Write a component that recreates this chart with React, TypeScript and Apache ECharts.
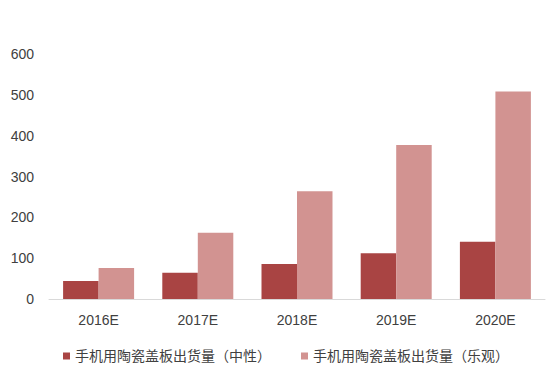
import React, { useEffect, useRef } from "react";
import * as echarts from "echarts";

const categories = ["2016E", "2017E", "2018E", "2019E", "2020E"];
const neutralValues = [44, 64, 86, 112, 140];
const optimisticValues = [76, 162, 264, 377, 508];
const seriesNames = ["手机用陶瓷盖板出货量（中性）", "手机用陶瓷盖板出货量（乐观）"];
const yTicks = { min: 0, max: 600, interval: 100 };

const FONT = "'Liberation Sans', Arial, 'Noto Sans CJK SC', sans-serif";

export default function App() {
  const ref = useRef<HTMLDivElement>(null);
  useEffect(() => {
    if (!ref.current) return;
    const chart = echarts.init(ref.current, null, { renderer: "svg" });
    chart.setOption({
      animation: false,
      backgroundColor: "#ffffff",
      textStyle: { fontFamily: FONT },
      grid: { left: 49, right: 8, top: 54, bottom: 74, containLabel: false },
      legend: {
        left: 58,
        top: 344,
        itemWidth: 7,
        itemHeight: 7,
        itemGap: 30,
        icon: "rect",
        textStyle: { fontSize: 14, color: "#404040", fontFamily: FONT },
        data: seriesNames,
      },
      xAxis: {
        type: "category",
        data: categories,
        axisLine: { lineStyle: { color: "#d9d9d9", width: 1 } },
        axisTick: { show: false },
        axisLabel: { color: "#404040", fontSize: 14, margin: 14, fontFamily: FONT },
      },
      yAxis: {
        type: "value",
        min: yTicks.min,
        max: yTicks.max,
        interval: yTicks.interval,
        axisLine: { show: false },
        axisTick: { show: false },
        splitLine: { show: false },
        axisLabel: { color: "#404040", fontSize: 14, margin: 15, fontFamily: FONT },
      },
      series: [
        {
          name: seriesNames[0],
          type: "bar",
          data: neutralValues,
          barWidth: 35.5,
          barGap: "0%",
          itemStyle: { color: "#A94443" },
        },
        {
          name: seriesNames[1],
          type: "bar",
          data: optimisticValues,
          barWidth: 35.5,
          barGap: "0%",
          itemStyle: { color: "#D29391" },
        },
      ],
    });
    return () => chart.dispose();
  }, []);
  return (
    <div
      ref={ref}
      style={{ position: "fixed", left: 0, top: 0, width: 553, height: 373 }}
    />
  );
}
